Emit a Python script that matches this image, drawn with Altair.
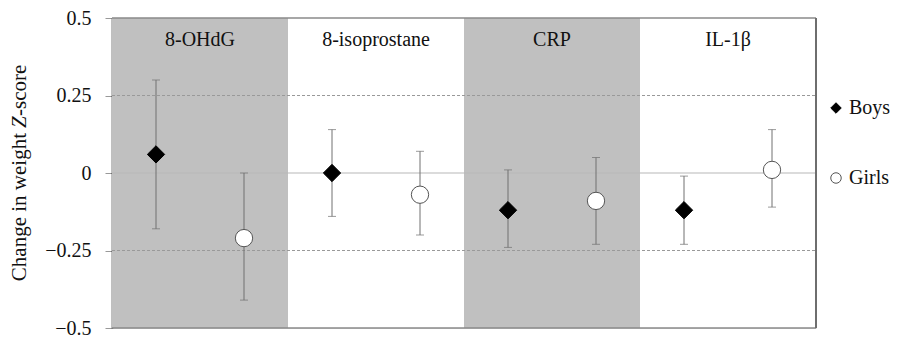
import altair as alt
import pandas as pd

categories = ["8-OHdG", "8-isoprostane", "CRP", "IL-1β"]
boys_mean = [0.06, 0.00, -0.12, -0.12]
boys_lo = [-0.18, -0.14, -0.24, -0.23]
boys_hi = [0.30, 0.14, 0.01, -0.01]
girls_mean = [-0.21, -0.07, -0.09, 0.01]
girls_lo = [-0.41, -0.20, -0.23, -0.11]
girls_hi = [0.00, 0.07, 0.05, 0.14]
y_ticks = [-0.5, -0.25, 0, 0.25, 0.5]

FONT = "Liberation Serif"

rows = []
for i, c in enumerate(categories):
    rows.append(dict(cat=c, idx=i, sex="Boys", pos=i + 0.25, m=boys_mean[i], lo=boys_lo[i], hi=boys_hi[i]))
    rows.append(dict(cat=c, idx=i, sex="Girls", pos=i + 0.75, m=girls_mean[i], lo=girls_lo[i], hi=girls_hi[i]))
df = pd.DataFrame(rows)

bands = pd.DataFrame([dict(cat=c, x0=i, x1=i + 1, x_mid=i + 0.5, shade="g" if i % 2 == 0 else "w",
                           ylo=-0.5, yhi=0.5) for i, c in enumerate(categories)])

xs = alt.Scale(domain=[0, 4], nice=False, zero=False)
ys = alt.Scale(domain=[-0.5, 0.5], nice=False, zero=False)

band = alt.Chart(bands).mark_rect().encode(
    x=alt.X("x0:Q", scale=xs, axis=None),
    x2="x1:Q",
    y=alt.Y("ylo:Q", scale=ys, axis=alt.Axis(
        values=y_ticks, title=None, grid=False, domainColor="black", domainWidth=1.5,
        tickColor="#999999", tickSize=7, labelFont=FONT, labelFontSize=20, labelColor="#111111",
        labelPadding=14,
        labelExpr="datum.value === 0 ? '0' : (datum.value < 0 ? '\u2212' : '') + format(abs(datum.value), '')")),
    y2="yhi:Q",
    color=alt.Color("shade:N", scale=alt.Scale(domain=["g", "w"], range=["#c0c0c0", "#ffffff"]), legend=None),
)

cat_text = alt.Chart(bands).mark_text(font=FONT, fontSize=20, baseline="middle", color="#111111").encode(
    x=alt.X("x_mid:Q", scale=xs), y=alt.value(22), text="cat:N")

grid_df = pd.DataFrame({"y": [0.25, -0.25], "x0": [0, 0], "x1": [4, 4]})
grid = alt.Chart(grid_df).mark_rule(color="#999999", strokeWidth=1, strokeDash=[3, 2]).encode(
    y=alt.Y("y:Q", scale=ys), x=alt.X("x0:Q", scale=xs), x2="x1:Q")

zero_df = pd.DataFrame({"y": [0], "x0": [0], "x1": [4]})
zero = alt.Chart(zero_df).mark_rule(color="#b8b8b8", strokeWidth=1.2).encode(
    y=alt.Y("y:Q", scale=ys), x=alt.X("x0:Q", scale=xs), x2="x1:Q")

border_df = pd.DataFrame({"y": [0.5, -0.5], "x0": [0, 0], "x1": [4, 4]})
border = alt.Chart(border_df).mark_rule(color="#8a8a8a", strokeWidth=1.5).encode(
    y=alt.Y("y:Q", scale=ys), x=alt.X("x0:Q", scale=xs), x2="x1:Q")

right_df = pd.DataFrame({"x": [4], "y0": [-0.5], "y1": [0.5]})
right = alt.Chart(right_df).mark_rule(color="#6e6e6e", strokeWidth=2).encode(
    x=alt.X("x:Q", scale=xs), y=alt.Y("y0:Q", scale=ys), y2="y1:Q")

err = alt.Chart(df).mark_rule(color="#707070", strokeWidth=1).encode(
    x=alt.X("pos:Q", scale=xs), y=alt.Y("lo:Q", scale=ys), y2="hi:Q")
cap_lo = alt.Chart(df).mark_tick(color="#707070", thickness=1, size=8, orient="horizontal").encode(
    x=alt.X("pos:Q", scale=xs), y=alt.Y("lo:Q", scale=ys))
cap_hi = alt.Chart(df).mark_tick(color="#707070", thickness=1, size=8, orient="horizontal").encode(
    x=alt.X("pos:Q", scale=xs), y=alt.Y("hi:Q", scale=ys))

leg = alt.Legend(orient="none", legendX=714, legendY=80, title=None, symbolSize=110,
                 labelFont=FONT, labelFontSize=20, labelColor="#111111", rowPadding=50,
                 labelOffset=3, symbolStrokeWidth=1)
pts = alt.Chart(df).mark_point(size=300, filled=False, opacity=1, strokeWidth=1).encode(
    x=alt.X("pos:Q", scale=xs), y=alt.Y("m:Q", scale=ys),
    shape=alt.Shape("sex:N", scale=alt.Scale(domain=["Boys", "Girls"], range=["diamond", "circle"]), legend=leg),
    fill=alt.Fill("sex:N", scale=alt.Scale(domain=["Boys", "Girls"], range=["#000000", "#ffffff"]), legend=leg),
    stroke=alt.Stroke("sex:N", scale=alt.Scale(domain=["Boys", "Girls"], range=["#000000", "#555555"]), legend=leg),
)

t_df = pd.DataFrame({"t": ["Change in weight"]})
t1 = alt.Chart(t_df).mark_text(font=FONT, fontSize=21, angle=270, align="right", baseline="middle",
                               color="#111111").encode(x=alt.value(-92), y=alt.value(115), text="t:N")
t_df2 = pd.DataFrame({"t": ["Z"]})
t2 = alt.Chart(t_df2).mark_text(font=FONT, fontSize=21, fontStyle="italic", angle=270, align="left",
                                baseline="middle", color="#111111").encode(x=alt.value(-92), y=alt.value(110), text="t:N")
t_df3 = pd.DataFrame({"t": ["-score"]})
t3 = alt.Chart(t_df3).mark_text(font=FONT, fontSize=21, angle=270, align="left", baseline="middle",
                                color="#111111").encode(x=alt.value(-92), y=alt.value(98), text="t:N")

chart = alt.layer(band, zero, grid, border, right, cat_text, err, cap_lo, cap_hi, pts, t1, t2, t3).resolve_scale(
    color="independent").properties(
    width=704, height=310, autosize=alt.AutoSizeParams(type="none"),
    padding={"left": 104, "top": 10, "right": 75, "bottom": 10},
).configure_view(stroke=None).configure(background="white")

chart.save("out.html", embed_options={"renderer": "svg", "actions": False})
